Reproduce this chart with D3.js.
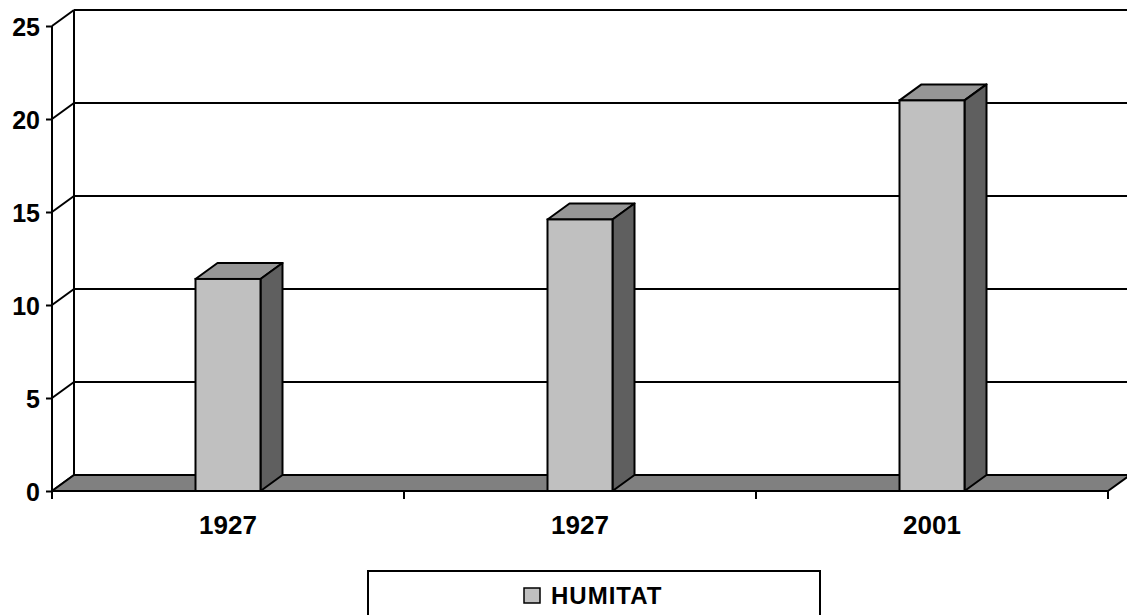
<!DOCTYPE html>
<html>
<head>
<meta charset="utf-8">
<script src="https://cdn.jsdelivr.net/npm/d3@7"></script>
<style>
  body { margin: 0; background: #fff; }
  text { font-family: "Liberation Sans", Arial, sans-serif; font-weight: bold; }
</style>
</head>
<body>
<div id="chart_area"></div>
<script>
// data
var categories = ["1927", "1927", "2001"];
var humitat = [11.4, 14.6, 21.0];
var yTicks = [0, 5, 10, 15, 20, 25];
var seriesName = "HUMITAT";

var sFrameWidth = 1127;
var sFrameHeight = 615;

// 3d depth offset
var dx = 22, dy = -16;

var sFrame = d3.select("#chart_area").append("svg")
	.attr("width", sFrameWidth)
	.attr("height", sFrameHeight);

var y = d3.scaleLinear().domain([0, 25]).range([491, 26]);
var x = d3.scaleBand().domain(d3.range(categories.length)).range([52, 1108]);
var barW = 65;

//back wall gridlines
var sWall = sFrame.append("g");
sWall.selectAll("line.grid").data(yTicks).enter().append("line")
	.attr("x1", 74).attr("x2", 1140)
	.attr("y1", function(d){ return y(d) + dy; })
	.attr("y2", function(d){ return y(d) + dy; })
	.attr("stroke", "#000").attr("stroke-width", 2);

//side wall diagonals
sWall.selectAll("line.diag").data(yTicks).enter().append("line")
	.attr("x1", 52).attr("x2", 52 + dx)
	.attr("y1", function(d){ return y(d); })
	.attr("y2", function(d){ return y(d) + dy; })
	.attr("stroke", "#000").attr("stroke-width", 2);

//back wall left edge
sWall.append("line")
	.attr("x1", 52 + dx).attr("x2", 52 + dx)
	.attr("y1", y(0) + dy).attr("y2", y(25) + dy)
	.attr("stroke", "#000").attr("stroke-width", 2);

//floor
var x0 = x.range()[0], x1 = x.range()[1];
sFrame.append("polygon")
	.attr("points", [[x0, y(0)], [x1, y(0)], [x1 + dx, y(0) + dy], [x0 + dx, y(0) + dy]].join(" "))
	.attr("fill", "#808080").attr("stroke", "#000").attr("stroke-width", 2).attr("stroke-linejoin", "round");

//bars
var sBars = sFrame.append("g").selectAll("g").data(humitat).enter().append("g");

function bx(i){ return x(i) + x.bandwidth() / 2 - barW / 2; }

sBars.append("polygon")
	.attr("points", function(d, i){
		var l = bx(i), r = l + barW, t = y(d);
		return [[l, t], [r, t], [r + dx, t + dy], [l + dx, t + dy]].join(" ");
	})
	.attr("fill", "#969696").attr("stroke", "#000").attr("stroke-width", 2).attr("stroke-linejoin", "round");

sBars.append("polygon")
	.attr("points", function(d, i){
		var r = bx(i) + barW, t = y(d), b = y(0);
		return [[r, t], [r + dx, t + dy], [r + dx, b + dy], [r, b]].join(" ");
	})
	.attr("fill", "#5f5f5f").attr("stroke", "#000").attr("stroke-width", 2).attr("stroke-linejoin", "round");

sBars.append("rect")
	.attr("x", function(d, i){ return bx(i); })
	.attr("y", function(d){ return y(d); })
	.attr("width", barW)
	.attr("height", function(d){ return y(0) - y(d); })
	.attr("fill", "#c0c0c0").attr("stroke", "#000").attr("stroke-width", 2);

//y axis
var yAxis = d3.axisLeft(y).tickValues(yTicks).tickSize(6).tickPadding(6);
var gy = sFrame.append("g").attr("transform", "translate(52,0)").call(yAxis);
gy.select(".domain").attr("stroke", "#000").attr("stroke-width", 2).attr("d", "M0," + y(25) + "V" + y(0));
gy.selectAll(".tick line").attr("stroke", "#000").attr("stroke-width", 2);
gy.selectAll(".tick text").attr("fill", "#000").style("font-size", "25px").attr("dy", "0.36em");

//x axis labels
var xAxis = d3.axisBottom(x).tickSize(0).tickPadding(25).tickFormat(function(i){ return categories[i]; });
var gx = sFrame.append("g").attr("transform", "translate(0," + y(0) + ")").call(xAxis);
gx.select(".domain").remove();
gx.selectAll(".tick text").attr("fill", "#000").style("font-size", "26px");

//category boundary ticks
var bounds = d3.range(categories.length).map(function(i){ return x(i); }).concat([x1]);
sFrame.append("g").selectAll("line").data(bounds).enter().append("line")
	.attr("x1", function(d){ return d; }).attr("x2", function(d){ return d; })
	.attr("y1", y(0)).attr("y2", y(0) + 8)
	.attr("stroke", "#000").attr("stroke-width", 2);

//legend
var sLegend = sFrame.append("g");
sLegend.append("rect")
	.attr("x", 368).attr("y", 571).attr("width", 452).attr("height", 60)
	.attr("fill", "#fff").attr("stroke", "#000").attr("stroke-width", 2);
sLegend.append("rect")
	.attr("x", 524).attr("y", 588).attr("width", 16).attr("height", 15)
	.attr("fill", "#c0c0c0").attr("stroke", "#000").attr("stroke-width", 1.5);
sLegend.append("text")
	.attr("x", 551).attr("y", 604)
	.style("font-size", "24px")
	.style("letter-spacing", "1px")
	.text(seriesName);
</script>
</body>
</html>
